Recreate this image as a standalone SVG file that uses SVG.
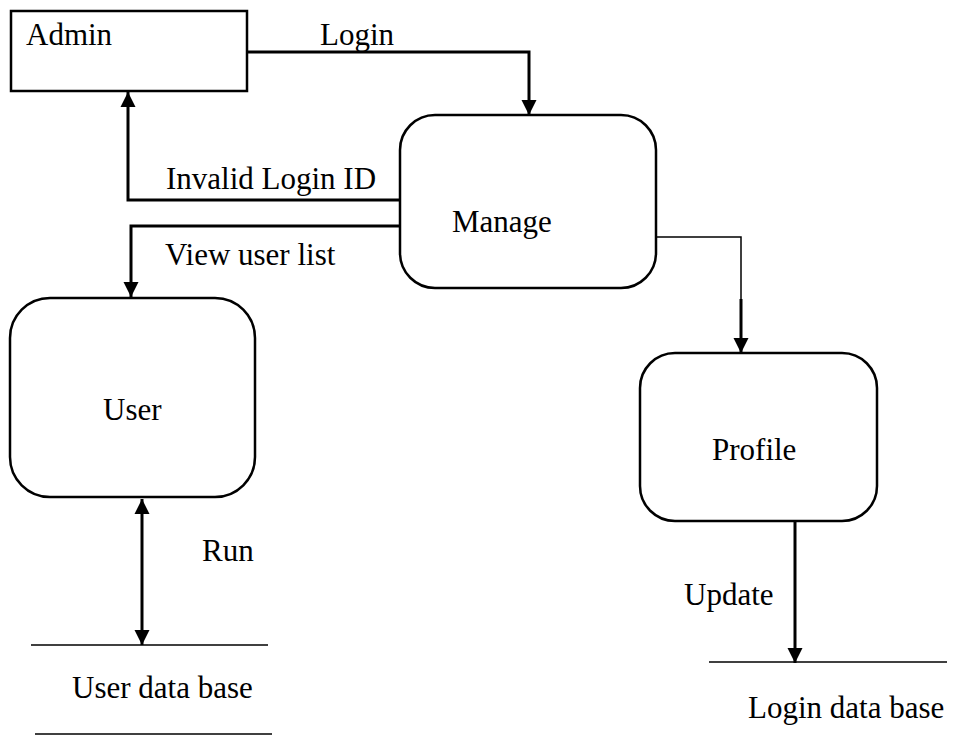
<svg xmlns="http://www.w3.org/2000/svg" width="954" height="744" viewBox="0 0 954 744">
<style>
  .t { font-family: 'Liberation Serif', 'Times New Roman', serif; font-size: 31px; fill: #000; }
  .box { fill: #fff; stroke: #000; stroke-width: 2.5; }
  .flow { fill: none; stroke: #000; stroke-width: 3; }
  .thin { fill: none; stroke: #000; stroke-width: 1.5; }
  .db { stroke: #000; stroke-width: 1.5; }
</style>
<defs>
  <marker id="arr" viewBox="0 0 10 10" refX="10" refY="5" markerWidth="5" markerHeight="5.5" markerUnits="strokeWidth" orient="auto-start-reverse">
    <path d="M0,0 L10,5 L0,10 Z" fill="#000"/>
  </marker>
</defs>
<rect width="954" height="744" fill="#fff"/>

<g id="connectors">
  <path class="flow" d="M247,52 H529 V115" marker-end="url(#arr)"/>
  <path class="flow" d="M400,200 H128 V92" marker-end="url(#arr)"/>
  <path class="flow" d="M400,226 H131 V297" marker-end="url(#arr)"/>
  <path class="thin" d="M656,237 H741 V300"/>
  <path class="flow" d="M741,299 V353" marker-end="url(#arr)"/>
  <path class="flow" d="M142,499 V645" marker-start="url(#arr)" marker-end="url(#arr)"/>
  <path class="flow" d="M795,521 V663" marker-end="url(#arr)"/>
  <text class="t" x="320" y="45">Login</text>
  <text class="t" x="166" y="189">Invalid Login ID</text>
  <text class="t" x="165" y="265">View user list</text>
  <text class="t" x="202" y="561">Run</text>
  <text class="t" x="684" y="605">Update</text>
</g>

<g id="admin">
  <rect class="box" x="11" y="11" width="236" height="80"/>
  <text class="t" x="26" y="45">Admin</text>
</g>

<g id="manage">
  <rect class="box" x="400" y="115" width="256" height="173" rx="35"/>
  <text class="t" x="452" y="232">Manage</text>
</g>

<g id="user">
  <rect class="box" x="10" y="298" width="245" height="199" rx="40"/>
  <text class="t" x="103" y="420">User</text>
</g>

<g id="profile">
  <rect class="box" x="640" y="353" width="237" height="168" rx="35"/>
  <text class="t" x="712" y="460">Profile</text>
</g>

<g id="userdb">
  <line class="db" x1="31" y1="645" x2="268" y2="645"/>
  <line class="db" x1="35" y1="734" x2="272" y2="734"/>
  <text class="t" x="72" y="698">User data base</text>
</g>

<g id="logindb">
  <line class="db" x1="709" y1="662" x2="947" y2="662"/>
  <text class="t" x="748" y="718">Login data base</text>
</g>
</svg>
